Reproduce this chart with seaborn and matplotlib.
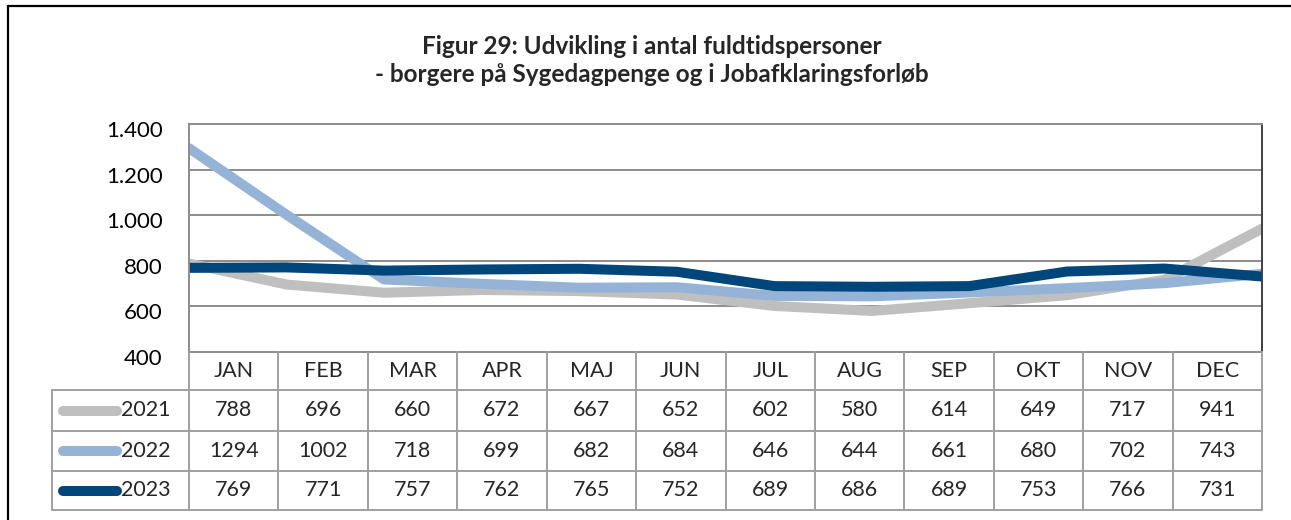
import numpy as np
import pandas as pd
import matplotlib.pyplot as plt
import matplotlib.transforms as mtransforms
from matplotlib.lines import Line2D
from matplotlib.ticker import FuncFormatter
import seaborn as sns

months = ['JAN', 'FEB', 'MAR', 'APR', 'MAJ', 'JUN', 'JUL', 'AUG', 'SEP', 'OKT', 'NOV', 'DEC']
years = ['2021', '2022', '2023']
v2021 = [788, 696, 660, 672, 667, 652, 602, 580, 614, 649, 717, 941]
v2022 = [1294, 1002, 718, 699, 682, 684, 646, 644, 661, 680, 702, 743]
v2023 = [769, 771, 757, 762, 765, 752, 689, 686, 689, 753, 766, 731]
colors = ['#bfbfbf', '#95b3d7', '#00467a']
title = 'Figur 29: Udvikling i antal fuldtidspersoner\n- borgere på Sygedagpenge og i Jobafklaringsforløb'

sns.set_theme(style='white')
plt.rcParams['font.family'] = ['Lato', 'DejaVu Sans']

W, H = 1291, 520
fig = plt.figure(figsize=(W / 100, H / 100), dpi=100)


def px_axes(x0, y0, x1, y1):
    # pixel box (top-left origin) -> figure axes
    return fig.add_axes([x0 / W, 1 - y1 / H, (x1 - x0) / W, (y1 - y0) / H])


# outer frame: only top and left edges fall inside the image
fx, fy = 7.5 / W, 1 - 5.5 / H
fig.add_artist(Line2D([fx, 1], [fy, fy], transform=fig.transFigure, color='black', linewidth=1.6))
fig.add_artist(Line2D([fx, fx], [0, fy], transform=fig.transFigure, color='black', linewidth=1.6))

fig.text(0.505, 1 - 60.5 / H, title, ha='center', va='center', fontsize=17.5,
         fontweight='bold', linespacing=1.25)

# --- line chart ---
plot_l, plot_r, plot_t, plot_b = 189, 1262, 124, 352
ax = px_axes(plot_l, plot_t, plot_r, plot_b)

df = pd.DataFrame({
    'pos': np.tile(np.arange(len(months)), len(years)),
    'value': v2021 + v2022 + v2023,
    'year': np.repeat(years, len(months)),
})
sns.lineplot(data=df, x='pos', y='value', hue='year', palette=colors,
             linewidth=7.2, legend=False, ax=ax)

ax.set_xlim(0, len(months) - 1)
ax.set_ylim(400, 1400)
ax.set_yticks(range(400, 1401, 200))
ax.yaxis.set_major_formatter(FuncFormatter(lambda v, p: f'{int(v):,}'.replace(',', '.')))
ax.set_xticks([])
ax.set_xlabel('')
ax.set_ylabel('')
ax.tick_params(axis='y', length=0, pad=19, labelsize=16, labelcolor='black')
offset = mtransforms.ScaledTranslation(0, -5 / 100, fig.dpi_scale_trans)
for lbl in ax.get_yticklabels():
    lbl.set_transform(lbl.get_transform() + offset)
for y in range(600, 1400, 200):
    ax.axhline(y, color='#8c8c8c', linewidth=1.4, zorder=0)
for side in ['left', 'top', 'bottom']:
    ax.spines[side].set_color('#8c8c8c')
    ax.spines[side].set_linewidth(1.4)
ax.spines['right'].set_color('#404040')
ax.spines['right'].set_linewidth(1.4)

# --- data table ---
tab_l = 52
row_edges = [352, 390, 431, 471, 510]
col_edges = np.linspace(plot_l, plot_r, len(months) + 1)
tax = px_axes(tab_l, row_edges[0], plot_r, row_edges[-1])
tax.set_xlim(tab_l, plot_r)
tax.set_ylim(row_edges[-1], row_edges[0])
tax.axis('off')
grid_kw = dict(color='#a0a0a0', linewidth=1.4, clip_on=False)
for y in row_edges[1:]:
    tax.plot([tab_l, plot_r], [y, y], **grid_kw)
tax.plot([tab_l, tab_l], [row_edges[1], row_edges[-1]], **grid_kw)
for x in col_edges:
    tax.plot([x, x], [row_edges[0], row_edges[-1]], **grid_kw)

centers = (col_edges[:-1] + col_edges[1:]) / 2
hy = (row_edges[0] + row_edges[1]) / 2
for cx, m in zip(centers, months):
    tax.text(cx, hy, m, ha='center', va='center', fontsize=15.5)

for i, (yr, vals, c) in enumerate(zip(years, [v2021, v2022, v2023], colors)):
    ry = (row_edges[i + 1] + row_edges[i + 2]) / 2
    tax.plot([63, 117], [ry, ry], color=c, linewidth=7.2, solid_capstyle='round',
             clip_on=False)
    tax.text(121, ry, yr, ha='left', va='center', fontsize=15.5)
    for cx, v in zip(centers, vals):
        tax.text(cx, ry, str(v), ha='center', va='center', fontsize=15.5)

fig.savefig('out.png', dpi=100)
